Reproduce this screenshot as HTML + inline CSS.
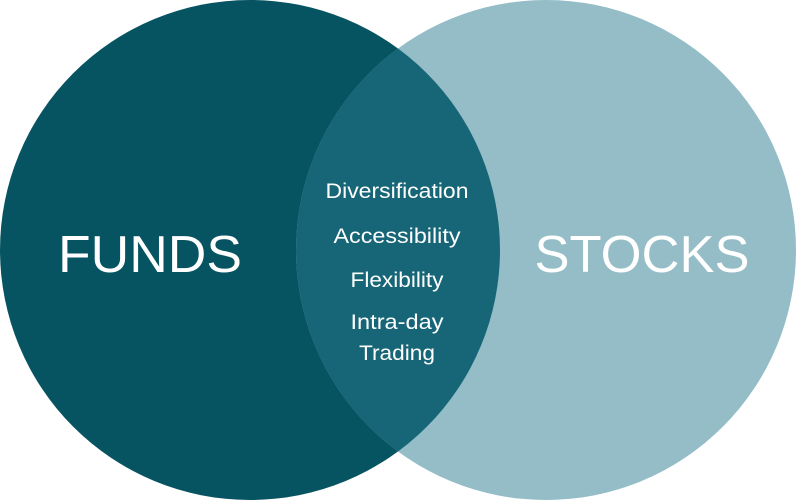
<!DOCTYPE html>
<html><head><style>
html,body{margin:0;padding:0;background:#fff;}
</style></head><body>
<svg width="796" height="500" viewBox="0 0 796 500" xmlns="http://www.w3.org/2000/svg" style="display:block">
<defs><clipPath id="c"><circle cx="250" cy="250" r="250"/></clipPath></defs>
<circle cx="250" cy="250" r="250" fill="#065462"/>
<circle cx="546" cy="250" r="250" fill="#94bdc7"/>
<circle cx="546" cy="250" r="250" fill="#176677" clip-path="url(#c)"/>
<g font-family="Liberation Sans, sans-serif" fill="#fff" text-anchor="middle">
<text x="150" y="272" font-size="52" textLength="184" lengthAdjust="spacingAndGlyphs">FUNDS</text>
<text x="642" y="272" font-size="52" textLength="215" lengthAdjust="spacingAndGlyphs">STOCKS</text>
<g font-size="21">
<text x="397" y="198" textLength="143" lengthAdjust="spacingAndGlyphs">Diversification</text>
<text x="397" y="243" textLength="127" lengthAdjust="spacingAndGlyphs">Accessibility</text>
<text x="397" y="287" textLength="93" lengthAdjust="spacingAndGlyphs">Flexibility</text>
<text x="397" y="329" textLength="93" lengthAdjust="spacingAndGlyphs">Intra-day</text>
<text x="397" y="360" textLength="76" lengthAdjust="spacingAndGlyphs">Trading</text>
</g></g>
</svg>
</body></html>
